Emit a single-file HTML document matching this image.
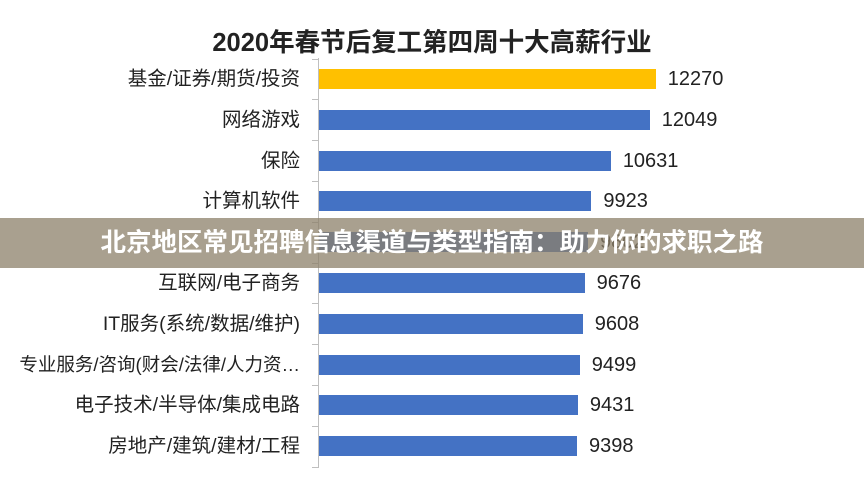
<!DOCTYPE html>
<html><head><meta charset="utf-8"><style>
body{margin:0;width:864px;height:493px;background:#fff;overflow:hidden;position:relative;font-family:"Liberation Sans","Noto Sans CJK SC",sans-serif}
.t{position:absolute;left:0;width:864px;top:22px;text-align:center;font-size:25.5px;font-weight:bold;color:#222}
.l{position:absolute;right:564px;font-size:19.5px;color:#222;white-space:nowrap;line-height:20px}
.b{position:absolute;left:319px;height:20px;background:#4472c4}
.v{position:absolute;font-size:20px;color:#222;line-height:20px}
.ax{position:absolute;left:318px;top:58px;width:1px;height:410px;background:#bfbfbf}
.tk{position:absolute;left:312px;width:6px;height:1px;background:#bfbfbf}
.ban{position:absolute;left:0;top:218px;width:864px;height:50px;background:rgba(140,128,106,0.75);color:#fff;font-size:25.5px;font-weight:bold;text-align:center;line-height:50px}
</style></head><body>
<div class="t">2020年春节后复工第四周十大高薪行业</div>
<div class="ax"></div>
<div id="c"></div>
<div class="ban">北京地区常见招聘信息渠道与类型指南：助力你的求职之路</div>
<script>
var d=[["基金/证券/期货/投资",12270],["网络游戏",12049],["保险",10631],["计算机软件",9923],["",9802],["互联网/电子商务",9676],["IT服务(系统/数据/维护)",9608],["<span style='font-size:18.5px'>专业服务/咨询(财会/法律/人力资…</span>",9499],["电子技术/半导体/集成电路",9431],["房地产/建筑/建材/工程",9398]];
var h="";
for(var i=0;i<10;i++){var y=69+i*40.8;var w=d[i][1]*0.02745;
h+='<div class="l" style="top:'+y+'px">'+d[i][0]+'</div>';
h+='<div class="b" style="top:'+y+'px;width:'+w+'px;'+(i==0?'background:#ffc000':'')+'"></div>';
h+='<div class="v" style="top:'+y+'px;left:'+(319+w+12)+'px">'+d[i][1]+'</div>';
h+='<div class="tk" style="top:'+(y-10.4)+'px"></div>';}
h+='<div class="tk" style="top:'+(69+10*40.8-10.4)+'px"></div>';
document.getElementById("c").innerHTML=h;
</script>
</body></html>
